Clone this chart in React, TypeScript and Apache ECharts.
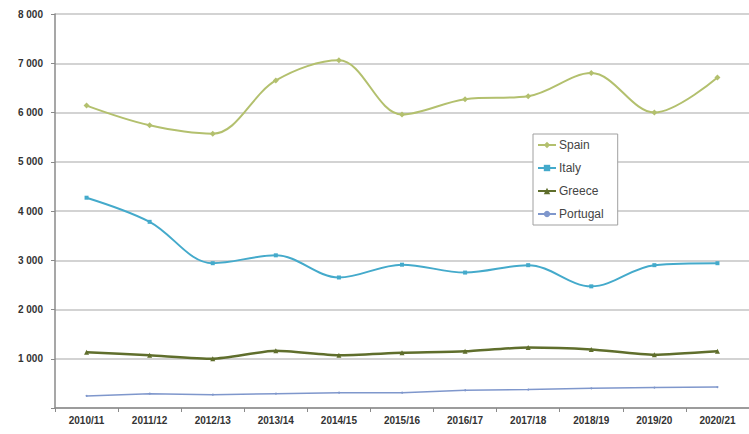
import React, { useEffect, useRef } from "react";
import * as echarts from "echarts";

const seasons = [
  "2010/11", "2011/12", "2012/13", "2013/14", "2014/15", "2015/16",
  "2016/17", "2017/18", "2018/19", "2019/20", "2020/21",
];

const spain = [6140, 5740, 5570, 6650, 7060, 5960, 6270, 6330, 6800, 6000, 6710];
const italy = [4270, 3780, 2940, 3100, 2650, 2910, 2750, 2900, 2470, 2900, 2940];
const greece = [1130, 1070, 1000, 1160, 1070, 1120, 1150, 1230, 1190, 1080, 1150];
const portugal = [245, 290, 270, 290, 310, 310, 360, 375, 400, 415, 425];

const yTicks = [0, 1000, 2000, 3000, 4000, 5000, 6000, 7000, 8000];

const fontFamily = "'Liberation Sans', Arial, sans-serif";

export default function App() {
  const ref = useRef<HTMLDivElement>(null);

  useEffect(() => {
    if (!ref.current) return;
    const chart = echarts.init(ref.current, undefined, { renderer: "svg" });

    const mkSeries = (
      name: string,
      data: number[],
      color: string,
      symbol: string,
      symbolSize: number,
      smooth: number | boolean,
      width: number
    ) => ({
      name,
      type: "line",
      data,
      smooth,
      symbol,
      symbolSize,
      showSymbol: true,
      lineStyle: { color, width },
      itemStyle: { color },
    });

    chart.setOption({
      animation: false,
      backgroundColor: "#ffffff",
      textStyle: { fontFamily },
      grid: { left: 55, right: -9, top: 14, bottom: 26, containLabel: false },
      legend: {
        orient: "vertical",
        left: 533,
        top: 134,
        padding: [5, 14, 5, 4],
        itemGap: 11,
        itemWidth: 18,
        itemHeight: 8,
        backgroundColor: "#ffffff",
        borderColor: "#a0a0a0",
        borderWidth: 1,
        textStyle: { color: "#444444", fontSize: 12, fontFamily, padding: [0, 0, 0, -2] },
        data: ["Spain", "Italy", "Greece", "Portugal"],
      },
      xAxis: {
        type: "category",
        data: seasons,
        boundaryGap: true,
        axisLine: { lineStyle: { color: "#8a8a8a", width: 1.5 } },
        axisTick: { show: true, length: 4, lineStyle: { color: "#8a8a8a" } },
        axisLabel: {
          color: "#333333",
          fontSize: 10,
          fontWeight: "bold",
          margin: 7,
          interval: 0,
          fontFamily,
        },
        splitLine: { show: false },
      },
      yAxis: {
        type: "value",
        min: 0,
        max: 8000,
        interval: 1000,
        axisLine: { show: true, lineStyle: { color: "#8a8a8a", width: 1.5 } },
        axisTick: { show: true, length: 4, lineStyle: { color: "#8a8a8a" } },
        axisLabel: {
          color: "#333333",
          fontSize: 10,
          fontWeight: "bold",
          margin: 12,
          fontFamily,
          formatter: (v: number) =>
            yTicks.includes(v) && v !== 0
              ? String(v).replace(/\B(?=(\d{3})+(?!\d))/g, " ")
              : "",
        },
        splitLine: { show: true, lineStyle: { color: "#c4c4c4", width: 1.5 } },
      },
      series: [
        mkSeries("Spain", spain, "#b3c06e", "diamond", 6, 0.35, 2),
        mkSeries("Italy", italy, "#44aacb", "rect", 4, 0.35, 2),
        mkSeries("Greece", greece, "#5f6e2c", "triangle", 5, 0.2, 2.5),
        mkSeries("Portugal", portugal, "#7f97cc", "circle", 2, false, 1.5),
      ],
    });

    return () => chart.dispose();
  }, []);

  return (
    <div
      ref={ref}
      style={{ position: "fixed", left: 0, top: 0, width: 749, height: 434 }}
    />
  );
}
